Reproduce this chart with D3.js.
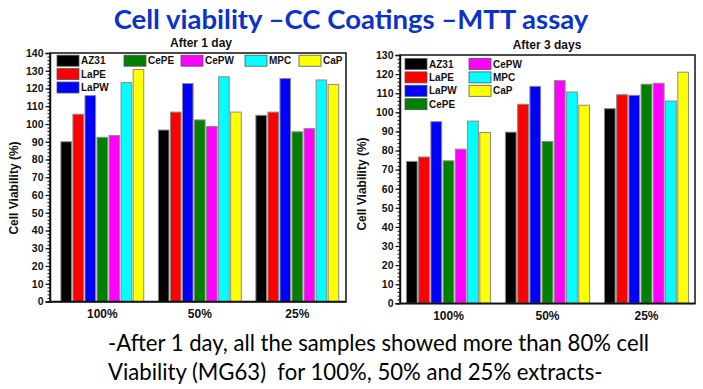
<!DOCTYPE html>
<html>
<head>
<meta charset="utf-8">
<script src="https://cdn.jsdelivr.net/npm/d3@7"></script>
<style>
  body { margin: 0; background: #fff; }
  svg { display: block; }
</style>
</head>
<body>
<script>
const width = 703;
const height = 389;

// data
const groups = ["100%", "50%", "25%"];
const samples = ["AZ31", "LaPE", "LaPW", "CePE", "CePW", "MPC", "CaP"];
const sampleColors = ["#000000", "#ff0000", "#0000ff", "#008000", "#ff00ff", "#00ffff", "#ffff00"];

// one row per extract concentration, one value per sample
const day1Values = [
  [90.0, 105.5, 116.0, 92.5, 93.5, 123.3, 130.7],
  [96.6, 106.7, 122.8, 102.3, 98.6, 126.6, 106.7],
  [104.9, 106.7, 125.6, 95.6, 97.4, 124.8, 122.3]
];
const day3Values = [
  [74.3, 76.6, 95.1, 74.6, 80.7, 95.4, 89.4],
  [89.6, 104.2, 113.6, 84.7, 116.6, 110.6, 103.7],
  [101.9, 109.2, 108.9, 114.7, 115.2, 105.9, 121.0]
];
const day1Ticks = d3.range(0, 141, 10);
const day3Ticks = d3.range(0, 131, 10);

const svg = d3.select("body")
  .append("svg")
  .attr("width", width)
  .attr("height", height);

const axisFont = "'Liberation Sans', Arial, sans-serif";

// pone un texto y ajusta su tamaño para ocupar el ancho deseado
function fitText(sel, targetWidth, size) {
  const w = sel.node().getComputedTextLength();
  sel.style("font-size", (size * targetWidth / w).toFixed(2) + "px");
}

// Titulo
const title = svg.append("text")
  .attr("x", 351)
  .attr("y", 29)
  .attr("text-anchor", "middle")
  .style("font-family", "Lato, 'Open Sans', sans-serif")
  .style("font-weight", "bold")
  .style("font-size", "24px")
  .attr("fill", "#0b33c8")
  .text("Cell viability \u2013CC Coatings \u2013MTT assay");
fitText(title, 475, 24);

function drawChart(cfg) {
  const x = d3.scaleBand()
    .domain(groups)
    .range([cfg.left, cfg.right])
    .paddingInner(0.15)
    .paddingOuter(cfg.padOuter)
    .align(cfg.align);

  const xs = d3.scaleBand()
    .domain(samples)
    .range([0, x.bandwidth()])
    .paddingInner(0.12);

  const y = d3.scaleLinear()
    .domain([0, cfg.ticks[cfg.ticks.length - 1]])
    .range([cfg.bottom, cfg.top]);

  const color = d3.scaleOrdinal().domain(samples).range(sampleColors);

  const g = svg.append("g");

  // barras
  const grp = g.selectAll("g.grp")
    .data(cfg.values.map((vals, i) => ({group: groups[i], vals})))
    .join("g")
    .attr("class", "grp")
    .attr("transform", d => `translate(${x(d.group)},0)`);

  grp.selectAll("rect")
    .data(d => d.vals.map((v, j) => ({sample: samples[j], v})))
    .join("rect")
    .attr("x", d => xs(d.sample))
    .attr("y", d => y(d.v))
    .attr("width", xs.bandwidth())
    .attr("height", d => y(0) - y(d.v))
    .attr("fill", d => color(d.sample))
    .attr("stroke", "#8a8a8a")
    .attr("stroke-width", 1);

  // marco
  g.append("rect")
    .attr("x", cfg.left)
    .attr("y", cfg.top)
    .attr("width", cfg.right - cfg.left)
    .attr("height", cfg.bottom - cfg.top)
    .attr("fill", "none")
    .attr("stroke", "#111")
    .attr("stroke-width", 1.5);

  // ticks menores
  g.append("g")
    .attr("transform", `translate(${cfg.left},0)`)
    .call(d3.axisLeft(y).tickValues(d3.range(0, y.domain()[1] + 0.1, 2)).tickSize(2.5).tickFormat(""))
    .call(a => a.select(".domain").remove())
    .call(a => a.selectAll("line").attr("stroke", "#111").attr("stroke-width", 1));

  // eje y
  g.append("g")
    .attr("transform", `translate(${cfg.left},0)`)
    .call(d3.axisLeft(y).tickValues(cfg.ticks).tickSize(4.5).tickPadding(2))
    .call(a => a.select(".domain").attr("stroke", "#111").attr("stroke-width", 1.5))
    .call(a => a.selectAll("line").attr("stroke", "#111").attr("stroke-width", 1.2))
    .call(a => a.selectAll("text")
      .attr("fill", "#111")
      .style("font-family", axisFont)
      .style("font-weight", "bold")
      .style("font-size", "10.5px"));

  // eje x
  g.append("g")
    .attr("transform", `translate(0,${cfg.bottom})`)
    .call(d3.axisBottom(x).tickSize(0).tickPadding(8))
    .call(a => a.select(".domain").attr("stroke", "#111").attr("stroke-width", 1.5))
    .call(a => a.selectAll("text")
      .attr("fill", "#111")
      .style("font-family", axisFont)
      .style("font-weight", "bold")
      .style("font-size", "12px"));

  // titulo del grafico
  g.append("text")
    .attr("x", cfg.titleX)
    .attr("y", cfg.top - 6)
    .attr("text-anchor", "middle")
    .style("font-family", axisFont)
    .style("font-weight", "bold")
    .style("font-size", "12px")
    .attr("fill", "#111")
    .text(cfg.title);

  // etiqueta eje y
  g.append("text")
    .attr("transform", `translate(${cfg.ylabelX},${cfg.ylabelY}) rotate(-90)`)
    .attr("text-anchor", "middle")
    .attr("dominant-baseline", "middle")
    .style("font-family", axisFont)
    .style("font-weight", "bold")
    .style("font-size", "12px")
    .attr("fill", "#111")
    .text("Cell Viability (%)");

  // leyenda
  const leg = g.selectAll("g.leg")
    .data(samples)
    .join("g")
    .attr("class", "leg")
    .attr("transform", (d, i) => {
      const [dx, row] = cfg.legendPos[i];
      return `translate(${cfg.left + dx},${cfg.top + cfg.legendTop + row * cfg.legendStep})`;
    });

  leg.append("rect")
    .attr("x", 0)
    .attr("y", -5.5)
    .attr("width", 22)
    .attr("height", 11)
    .attr("fill", d => color(d))
    .attr("stroke", "#555")
    .attr("stroke-width", 0.8);

  leg.append("text")
    .attr("x", 24)
    .attr("y", 0)
    .attr("dominant-baseline", "central")
    .style("font-family", axisFont)
    .style("font-weight", "bold")
    .style("font-size", "10px")
    .attr("fill", "#111")
    .text(d => d);
}

drawChart({
  values: day1Values,
  ticks: day1Ticks,
  left: 50, right: 346, top: 53, bottom: 301.5,
  padOuter: 0.093, align: 0.6,
  title: "After 1 day", titleX: 201,
  ylabelX: 15, ylabelY: 188,
  legendTop: 7.7, legendStep: 13.4,
  legendPos: [[7, 0], [7, 1], [7, 2], [74, 0], [131, 0], [195, 0], [249, 0]]
});

drawChart({
  values: day3Values,
  ticks: day3Ticks,
  left: 400, right: 695, top: 55, bottom: 303.3,
  padOuter: 0.065, align: 0.5,
  title: "After 3 days", titleX: 547,
  ylabelX: 363, ylabelY: 184,
  legendTop: 9, legendStep: 13.4,
  legendPos: [[5, 0], [5, 1], [5, 2], [5, 3], [69, 0], [69, 1], [69, 2]]
});

// Texto inferior
const note1 = svg.append("text")
  .attr("x", 108)
  .attr("y", 351)
  .style("font-family", "Lato, 'Open Sans', sans-serif")
  .style("font-size", "20px")
  .attr("fill", "#000")
  .text("-After 1 day, all the samples showed more than 80% cell");
fitText(note1, 541, 20);

svg.append("text")
  .attr("x", 108)
  .attr("y", 380)
  .style("font-family", "Lato, 'Open Sans', sans-serif")
  .style("font-size", note1.style("font-size"))
  .attr("fill", "#000")
  .style("white-space", "pre")
  .text("Viability (MG63)  for 100%, 50% and 25% extracts-");
</script>
</body>
</html>
